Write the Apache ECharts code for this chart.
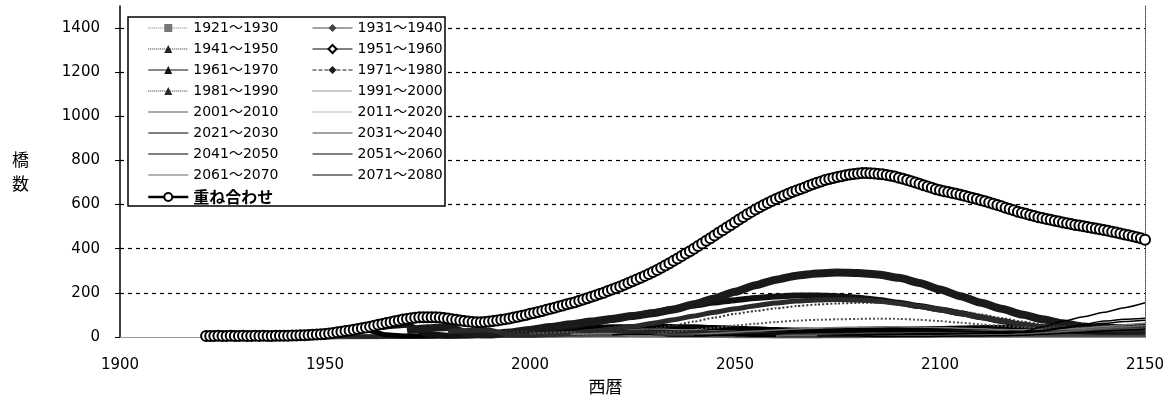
<!DOCTYPE html>
<html>
<head>
<meta charset="utf-8">
<script src="https://cdn.jsdelivr.net/npm/echarts@6/dist/echarts.min.js"></script>
<style>
  html, body { margin: 0; padding: 0; background: #fff; }
  #chart { width: 1172px; height: 396px; }
</style>
</head>
<body>
<div id="chart"></div>
<script>
// DATA

const xMin = 1900, xMax = 2150, xStep = 50;
const yMin = 0, yMax = 1500, yStep = 200;

const decades = [
  "1921～1930", "1931～1940", "1941～1950", "1951～1960",
  "1961～1970", "1971～1980", "1981～1990", "1991～2000",
  "2001～2010", "2011～2020", "2021～2030", "2031～2040",
  "2041～2050", "2051～2060", "2061～2070", "2071～2080"
];
// first year of each decade's 5-year series
const starts = [1920, 1930, 1940, 1950, 1960, 1970, 1980, 1990,
                2000, 2010, 2020, 2030, 2040, 2050, 2060, 2070];

const d1921 = [4,5,4,1,0,0,1,1,2,2, 3,3,4,5,6,7,8,9,10,11, 11,11,10,9,8,7,6,6,5,5, 5,6,6,7,7,8,8,9,9,9, 10,10,10,10,10,10,10];
const d1931 = [4,5,5,1,0,1,1,2,2,3, 4,5,6,7,9,10,12,13,14,14, 14,13,12,11,10,9,8,8,8,8, 9,9,10,10,11,11,12,12,12,13, 13,13,13,13,13];
const d1941 = [6,9,10,3,1,2,3,4,6,8, 10,12,15,18,21,23,25,26,26,25, 24,22,20,18,17,16,16,16,17,17, 18,19,20,21,22,22,23,23,24,24, 24,24,24];
const d1951 = [12,22,32,10,4,5,7,10,14,19, 25,31,37,42,46,48,49,48,46,43, 40,37,34,32,31,31,32,33,35,37, 39,41,43,44,45,46,47,47,48,48, 48];
const d1961 = [38,48,55,12,6,8,12,18,26,36, 48,62,78,95,112,128,143,156,167,177, 184,188,188,185,178,168,155,140,125,108, 90,72,56,42,32,26,24,24,26];
const d1971 = [30,40,45,15,12,20,32,45,58,70, 82,95,108,125,148,175,205,235,260,278, 288,292,290,283,268,245,215,185,155,128, 102,80,62,48,38,32,30];
const d1981 = [25,30,32,10,8,12,18,26,36,48, 62,78,95,112,128,142,154,163,168,170, 168,162,152,138,122,105,88,72,58,46, 38,34,33,34,36];
const d1991 = [22,25,26,8,8,12,18,26,38,52, 70,88,105,118,130,140,147,152,155,155, 151,144,133,118,102,86,70,57,48,42, 40,41,44];
const d2001 = [15,20,22,6,6,10,16,24,33,42, 52,60,68,74,78,80,82,83,82,78, 72,65,57,50,44,40,38,40,44,48, 52];
const d2011 = [12,15,16,5,5,8,12,17,22,27, 32,36,40,43,45,46,46,45,43,40, 37,34,32,32,34,40,48,56,62];
const d2021 = [10,12,12,4,4,6,9,13,17,20, 23,25,27,28,28,28,27,26,25,24, 25,30,42,58,72,80,85];
const d2031 = [8,10,10,3,3,5,7,10,12,14, 16,17,18,18,18,17,16,15,14,14, 18,26,34,38,40];
const d2041 = [6,8,8,3,3,4,6,8,10,12, 13,14,15,15,16,17,20,28,40,52, 62,70,76];
const d2051 = [6,8,8,3,3,4,6,8,10,12, 14,16,18,20,24,45,72,92,112,133, 155];
const d2061 = [5,6,6,2,2,3,4,5,6,7, 8,9,12,18,25,33,40,46,52];
const d2071 = [4,5,5,2,2,2,3,4,5,6, 8,12,17,22,27,31,35];

const decadeValues = [d1921, d1931, d1941, d1951, d1961, d1971, d1981, d1991,
                      d2001, d2011, d2021, d2031, d2041, d2051, d2061, d2071];

// overlay, one value per year from 1921 to 2150
const overlayName = "重ね合わせ";
const overlayStart = 1921;
const overlay = [
  4,5,5,6,5,5,6,5,5,6,
  5,5,6,5,6,5,5,6,6,6,
  6,7,7,8,8,9,10,11,12,14,
  16,18,21,24,27,30,33,36,40,43,
  47,51,55,59,63,67,71,75,79,82,
  85,87,89,90,90,90,89,88,86,84,
  81,78,75,72,70,68,67,67,68,70,
  72,75,78,81,84,88,92,96,100,105,
  109,113,118,123,128,133,138,143,148,153,
  158,164,170,176,182,188,195,201,208,215,
  222,229,237,245,253,261,269,277,286,295,
  304,314,324,334,345,356,367,378,389,400,
  412,424,436,448,460,472,484,496,508,520,
  532,544,556,567,578,588,598,607,616,625,
  633,641,649,657,664,671,678,685,692,699,
  705,711,716,721,725,729,733,736,739,741,
  743,743,742,741,739,737,734,731,727,722,
  717,712,706,700,694,688,682,676,670,665,
  661,657,653,649,645,640,635,630,625,620,
  615,610,604,598,592,586,580,574,568,563,
  558,553,548,543,539,535,531,527,523,519,
  515,512,508,505,502,498,495,492,488,485,
  481,477,473,469,465,461,457,452,447,441
];

// STYLES

const looks = [
  { sym: "rect",         col: "#777",    w: 5,   t: "solid",  lt: "dotted" },
  { sym: "diamond",      col: "#444",    w: 5,   t: "solid",  lt: "solid" },
  { sym: "triangle",     col: "#222",    w: 4,   t: "solid",  lt: "dotted" },
  { sym: "emptyDiamond", col: "#000",    w: 5,   t: "solid",  lt: "solid" },
  { sym: "triangle",     col: "#111",    w: 6,   t: "solid",  lt: "solid" },
  { sym: "diamond",      col: "#1a1a1a", w: 8,   t: "solid",  lt: "dashed" },
  { sym: "triangle",     col: "#2a2a2a", w: 5,   t: "solid",  lt: "dotted" },
  { sym: null,           col: "#333",    w: 2,   t: "dotted", lt: "dotted" },
  { sym: null,           col: "#555",    w: 2,   t: "dotted", lt: "solid" },
  { sym: null,           col: "#777",    w: 1.5, t: "solid",  lt: "dotted" },
  { sym: null,           col: "#000",    w: 1.5, t: "solid",  lt: "solid" },
  { sym: null,           col: "#444",    w: 1.5, t: "solid",  lt: "solid" },
  { sym: null,           col: "#000",    w: 1.5, t: "solid",  lt: "solid" },
  { sym: null,           col: "#000",    w: 1.5, t: "solid",  lt: "solid" },
  { sym: null,           col: "#666",    w: 1.5, t: "solid",  lt: "solid" },
  { sym: null,           col: "#000",    w: 1.5, t: "solid",  lt: "solid" }
];

const numFont = "'DejaVu Sans', 'Noto Sans CJK JP', sans-serif";
const jpFont = "'Noto Sans CJK JP', sans-serif";

// SERIES

var series = decades.map((name, i) => ({
  name: name,
  type: "line",
  smooth: 0.2,
  smoothMonotone: "x",
  showSymbol: false,
  symbol: looks[i].sym || "circle",
  data: decadeValues[i].map((v, k) => [starts[i] + 5 * k, v]),
  lineStyle: { color: looks[i].col, width: looks[i].w, type: looks[i].t },
  itemStyle: { color: looks[i].col },
  z: 2
}));

series.push({
  name: overlayName,
  type: "line",
  symbol: "circle",
  symbolSize: 10,
  showSymbol: true,
  data: overlay.map((v, k) => [overlayStart + k, v]),
  lineStyle: { color: "#000", width: 2 },
  itemStyle: { color: "#fff", borderColor: "#000", borderWidth: 2 },
  z: 3
});

function legendItem(i) {
  let item = {
    name: decades[i],
    lineStyle: { type: looks[i].lt, width: 1 }
  };
  if (!looks[i].sym) item.itemStyle = { opacity: 0 };
  return item;
}

var leftItems = [], rightItems = [];
decades.forEach((d, i) => (i % 2 == 0 ? leftItems : rightItems).push(legendItem(i)));
leftItems.push({ name: overlayName, lineStyle: { width: 2.5 } });

var legendBase = {
  orient: "vertical",
  top: 21,
  padding: 0,
  itemWidth: 40,
  itemHeight: 10,
  itemGap: 7,
  selectedMode: false,
  z: 6,
  formatter: name => name == overlayName ? "{j|" + name + "}" : name,
  textStyle: {
    fontFamily: numFont,
    fontSize: 14,
    lineHeight: 14,
    color: "#000",
    rich: { j: { fontFamily: jpFont, fontSize: 16, fontWeight: "bold", color: "#000" } }
  }
};

const plain = v => String(v);

// CHART
var chart = echarts.init(document.getElementById("chart"));

chart.setOption({
  animation: false,
  backgroundColor: "#fff",
  grid: { left: 120, right: 27, top: 6, bottom: 59, outerBoundsMode: "none", containLabel: false },
  legend: [
    Object.assign({}, legendBase, { left: 147, data: leftItems }),
    Object.assign({}, legendBase, { left: 312, data: rightItems })
  ],
  graphic: [{
    type: "rect",
    z: 5,
    shape: { x: 128, y: 17, width: 317, height: 189 },
    style: { fill: "#fff", stroke: "#000", lineWidth: 1.5 }
  }],
  xAxis: [{
    type: "value",
    min: xMin, max: xMax, interval: xStep,
    name: "西暦",
    nameLocation: "middle",
    nameGap: 39,
    nameTextStyle: { fontFamily: jpFont, fontSize: 17, color: "#000", padding: [0, 54, 0, 0] },
    axisLine: { show: true, onZero: false, lineStyle: { color: "#777", type: "dotted", width: 1 } },
    axisTick: { show: false },
    axisLabel: { margin: 21, fontFamily: numFont, fontSize: 15, color: "#000", formatter: plain },
    splitLine: { show: false }
  }, {
    type: "value",
    position: "top",
    min: xMin, max: xMax,
    axisLine: { show: true, lineStyle: { color: "#999", type: "dotted", width: 1 } },
    axisTick: { show: false },
    axisLabel: { show: false },
    splitLine: { show: false }
  }],
  yAxis: [{
    type: "value",
    min: yMin, max: yMax, interval: yStep,
    name: "橋\n数",
    nameLocation: "middle",
    nameRotate: 0,
    nameGap: 91,
    nameTextStyle: { fontFamily: jpFont, fontSize: 17, lineHeight: 24, color: "#000", padding: [10, 0, 0, 0] },
    axisLine: { show: true, lineStyle: { color: "#000", width: 1.5 } },
    axisTick: { show: true, length: 5, lineStyle: { color: "#000" } },
    axisLabel: { margin: 20, fontFamily: numFont, fontSize: 15, color: "#000", showMaxLabel: false, formatter: plain },
    splitLine: {
      show: true, showMinLine: false, showMaxLine: false,
      lineStyle: { color: "#000", type: [4, 4], width: 1.2 }
    }
  }, {
    type: "value",
    position: "right",
    min: yMin, max: yMax,
    axisLine: { show: true, lineStyle: { color: "#444", type: "dotted", width: 1 } },
    axisTick: { show: false },
    axisLabel: { show: false },
    splitLine: { show: false }
  }],
  series: series
});
</script>
</body>
</html>
